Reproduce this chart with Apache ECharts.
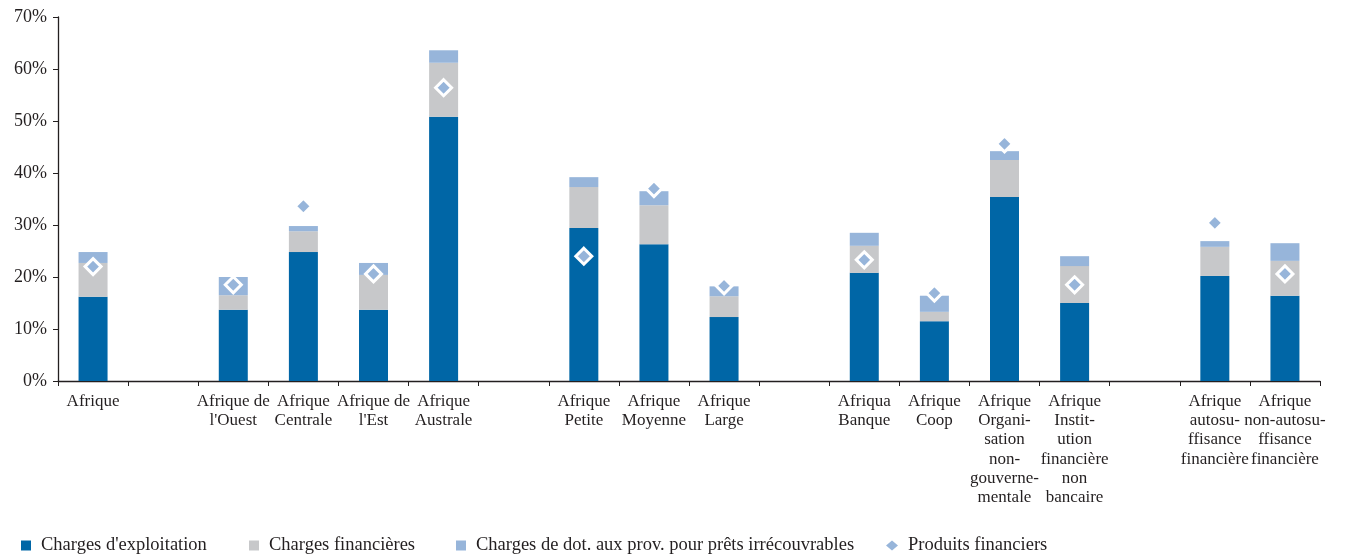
<!DOCTYPE html>
<html>
<head>
<meta charset="utf-8">
<script src="https://cdn.jsdelivr.net/npm/echarts@6/dist/echarts.min.js"></script>
<style>html,body{margin:0;padding:0;background:#fff}#c{width:1345px;height:557px}</style>
</head>
<body>
<div id="c"></div>
<script>
const categories = [
  "Afrique", "", "Afrique de\nl'Ouest", "Afrique\nCentrale", "Afrique de\nl'Est", "Afrique\nAustrale", "",
  "Afrique\nPetite", "Afrique\nMoyenne", "Afrique\nLarge", "",
  "Afriqua\nBanque", "Afrique\nCoop", "Afrique\nOrgani-\nsation\nnon-\ngouverne-\nmentale",
  "Afrique\nInstit-\nution\nfinancière\nnon\nbancaire", "",
  "Afrique\nautosu-\nffisance\nfinancière", "Afrique\nnon-autosu-\nffisance\nfinancière"
];
const chargesExploitation = [16.2, null, 13.7, 24.8, 13.7, 50.8, null, 29.4, 26.3, 12.3, null, 20.8, 11.5, 35.4, 15.0, null, 20.2, 16.4];
const chargesFinancieres  = [6.5, null, 2.8, 4.0, 6.7, 10.4, null, 7.9, 7.5, 4.0, null, 5.2, 1.8, 7.1, 7.1, null, 5.6, 6.7];
const chargesProvisions   = [2.1, null, 3.5, 1.0, 2.3, 2.4, null, 1.9, 2.7, 1.9, null, 2.5, 3.1, 1.7, 1.9, null, 1.1, 3.4];
const produitsFinanciers  = [22.0, null, 18.5, 33.6, 20.6, 56.4, null, 24.0, 37.0, 18.3, null, 23.3, 16.9, 45.6, 18.5, null, 30.4, 20.6];
const yTicks = [0, 10, 20, 30, 40, 50, 60, 70];
const seriesNames = ["Charges d'exploitation", 'Charges financières', 'Charges de dot. aux prov. pour prêts irrécouvrables', 'Produits financiers'];

const FONT = "Liberation Serif";
const TXT = '#231f20';
function leg(name, left, icon, w) {
  return {
    left: left, top: 531, itemWidth: w, itemHeight: 10,
    textStyle: { fontFamily: FONT, fontSize: 18.5, color: TXT, padding: [0, 0, 0, 5] },
    data: [{ name: name, icon: icon, itemStyle: { borderWidth: 0 } }]
  };
}
const chart = echarts.init(document.getElementById('c'));
chart.setOption({
  animation: false,
  textStyle: { fontFamily: FONT, color: TXT },
  grid: { left: 58, right: 25, top: 17, bottom: 176, containLabel: false },
  legend: [
    leg(seriesNames[0], 16, 'rect', 10),
    leg(seriesNames[1], 244, 'rect', 10),
    leg(seriesNames[2], 451, 'rect', 10),
    leg(seriesNames[3], 881, 'diamond', 12)
  ],
  xAxis: {
    type: 'category', data: categories,
    axisLine: { lineStyle: { color: TXT, width: 1.3 } },
    axisTick: { show: true, length: 5, lineStyle: { color: TXT } },
    axisLabel: { interval: 0, fontFamily: FONT, fontSize: 17, color: TXT, lineHeight: 19.2, margin: 11, align: 'center' }
  },
  yAxis: {
    type: 'value', min: yTicks[0], max: yTicks[yTicks.length - 1], interval: 10,
    axisLine: { show: true, lineStyle: { color: TXT, width: 1.3 } },
    axisTick: { show: true, inside: false, length: 5, lineStyle: { color: TXT } },
    splitLine: { show: false },
    axisLabel: { fontFamily: FONT, fontSize: 18, color: TXT, margin: 11, formatter: v => v + '%' }
  },
  series: [
    { name: seriesNames[0], type: 'bar', stack: 's', data: chargesExploitation, barWidth: 29, itemStyle: { color: '#0066a6' } },
    { name: seriesNames[1], type: 'bar', stack: 's', data: chargesFinancieres, itemStyle: { color: '#c7c8ca' } },
    { name: seriesNames[2], type: 'bar', stack: 's', data: chargesProvisions, itemStyle: { color: '#97b5da' } },
    { name: seriesNames[3], type: 'scatter', data: produitsFinanciers, symbol: 'diamond', symbolSize: 16, z: 5,
      itemStyle: { color: '#97b5da', borderColor: '#ffffff', borderWidth: 3, opacity: 1 } }
  ]
});
</script>
</body>
</html>
